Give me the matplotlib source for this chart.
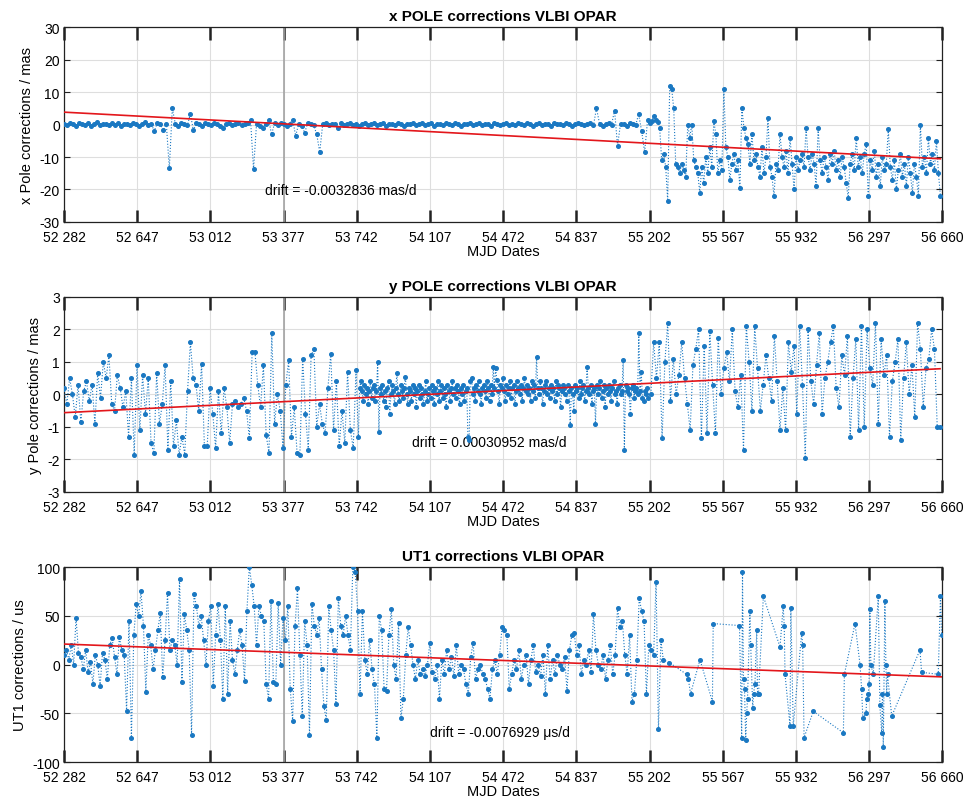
import numpy as np
import matplotlib
matplotlib.use("Agg")
import matplotlib.pyplot as plt

plt.rcParams['font.family'] = ['Liberation Sans', 'DejaVu Sans']
plt.rcParams['axes.unicode_minus'] = False

# x axis: MJD ticks
tick_dates = [52282, 52647, 53012, 53377, 53742, 54107, 54472, 54837,
              55202, 55567, 55932, 56297, 56660]
tick_labels = ['52 282', '52 647', '53 012', '53 377', '53 742', '54 107', '54 472',
               '54 837', '55 202', '55 567', '55 932', '56 297', '56 660']

# ---- x pole (mas) ----
x_start_a, x_step_a = 52282, 15
x_vals_a = [
    0.3, -0.2, 0.5, 0.1, -0.4, 0.6, 0.2, -0.1, 0.4, -0.5, 0.2, 0.7, -0.2, 0.3, 0.1,
    -0.3, 0.4, 0.0, 0.5, -0.6, 0.2, 0.3, -0.2, 0.6, 0.1, -0.4, 0.3, 0.8, -0.3, 0.2,
    -2.0, 0.4, 0.1, -1.8, 0.3, -13.5, 5.0, 0.2, -0.5, 0.6, 0.1, -0.3, 3.3, -1.8, 0.4,
    0.2, -0.4, 0.5, 0.1, -0.2, 0.6, 0.3, -0.5, -1.2, 0.2, 0.4, -0.1, 0.3, 0.5, -0.3,
    0.2, 0.4, 1.5, -13.8, 0.3, -0.6, -1.0, 0.2, 1.5, -3.0, 0.4, -0.2, 0.5, 0.1, -0.4,
    0.3, 1.5, -3.5, 0.2, -0.5, -2.5, 0.4, 0.1, -0.3, -3.0, -8.5, 0.2, 0.5, -0.2, 0.3,
    0.1, -1.2, 0.4, -0.3, 0.2, 0.5, -0.1, 0.3, -0.4, 0.2, 0.6, -0.2, 0.1, 0.4, -0.3,
    0.2, 0.5, -0.4, 0.1, 0.3, -0.2, 0.6, 0.2, -0.5, 0.3, 0.1, 0.4, -0.3, 0.2, 0.5,
    -0.1, 0.3, 0.6, -0.4, 0.2, 0.1, -0.3, 0.5, 0.2, -0.2, 0.4, 0.1, -0.5, 0.3, 0.2,
    0.4, -0.2, 0.1, 0.5, -0.3, 0.2, 0.3, -0.4, 0.6, 0.1, -0.2, 0.3, 0.5, -0.1, 0.2,
    -0.3, 0.4, 0.2, -0.1, 0.5, 0.3, -0.4, 0.1, 0.6, -0.2, 0.3, 0.2, -0.5, 0.4, 0.1,
    0.3, -0.2, 0.5, 0.1, -0.4, 0.2, 0.6, 0.3, -0.3, 0.1, 0.4, -0.2, 5.0, 0.3, -0.4,
    0.2, 0.5, -0.1, 4.3, -6.5, 0.3, 0.1, -0.4, 0.6, 0.2, -0.3, 3.2, -2.0, -8.5, 1.5,
]
x_start_b, x_step_b = 55202, 10
x_vals_b = [
    0.5, 1.0, 2.5, 1.5, 0.8, -1, -11, -9, -13, -23.5, 12, 11, 5, -12, -13,
    -15, -12, -14, -16, 0, -4, 0, -11, -13, -15, -21, -13, -18, -10, -15,
    -7, -13, 1, -3, -15, -11, -14, 11, -7, -10, -17, -12, -9, -14, -11,
    -19.5, 5, -1, -4, -6, -12, -3, -11, -9, -13, -16, -7, -15, -10, 2,
    -13, -16, -22, -12, -14, -3, -10, -13, -8, -15, -4, -12, -20, -10, -14,
    -11, -9, -13, -1, -10, -14, -9, -12, -19, -1, -11, -15, -10, -13, -17,
    -9, -12, -8, -14, -11, -16, -10, -13, -18, -22.5, -12, -9, -14, -4, -13,
    -10, -15, -9, -6, -22, -11, -14, -8, -16, -12, -19, -10, -14, -12, -1.5,
    -13, -17, -11, -20, -14, -9, -16, -12, -19, -10, -15, -21, -12, -16, -22,
    0, -13, -10, -15, -4, -12, -9, -14, -5, -15, -22,
]
x_fit_start, x_drift = 3.8, -0.0032836

# ---- y pole (mas) ----
y_start_a, y_step_a = 52282, 14
y_vals_a = [
    0.2, -0.3, 0.5, 0.0, -0.7, 0.3, -0.85, 0.1, 0.4, -0.2, 0.3, -0.9, 0.65, -0.1, 1.0, 0.5, 1.2, -0.3, -0.5, 0.6,
    0.2, -0.4, 0.1, -1.3, 0.5, -1.85, 0.9, -1.1, 0.6, -0.6, 0.5, -1.5, -1.8, 0.65, -0.9, -0.3, 0.9, -1.7, 0.4, -1.6,
    -0.8, -1.85, -1.3, -1.85, 0.1, 1.6, 0.5, 0.3, -0.5, 0.95, -1.6, -1.6, 0.2, -0.6, -1.65, 0.1, -1.2, 0.2, -0.4, -1.5,
    -0.3, -0.2, -0.4, -0.3, -0.1, -0.5, -1.35, 1.3, 1.3, 0.3, -0.4, 0.9, -1.25, -1.8, 1.9, -0.9, 0.0, -0.5, -1.65, 0.3,
    1.05, -1.3, -0.4, -1.8, -1.85, 1.1, -0.6, -1.7, 1.2, 1.4, -1.0, -0.3, -0.9, -1.2, 0.2, 1.25, -1.1, 0.4, -1.6, -0.5,
    -1.5, 0.7, -1.1, -1.65, 0.75,
]
y_start_b, y_step_b = 53750, 6
y_vals_b = [
    -1.3, 0.2, 0.4, 0.1, -0.2, 0.3, 0.0, 0.2, -0.3, 0.1, 0.4, -0.1, 0.2, 0.3, -0.2, 0.1, 1.0, -1.15, 0.2, 0.0,
    0.3, -0.2, 0.1, -0.4, 0.2, 0.4, -0.6, 0.0, 0.3, 0.1, -0.3, 0.2, 0.65, 0.0, -0.2, 0.3, 0.1, -0.1, 0.2, 0.55,
    0.0, -0.3, 0.2, 0.1, -0.2, 0.3, 0.0, 0.2, -0.4, 0.1, 0.3, -0.1, 0.2, 0.0, -0.3, 0.1, 0.4, -0.2, 0.0, 0.2,
    -0.1, 0.3, 0.1, -0.3, 0.2, 0.0, 0.4, -0.2, 0.1, 0.3, -0.1, 0.2, 0.0, -0.4, 0.3, 0.1, -0.2, 0.2, 0.4, 0.0,
    0.2, -0.1, 0.3, 0.1, -0.3, 0.2, 0.0, 0.3, -0.2, 0.1, 0.2, -1.3, -1.4, 0.4, 0.5, 0.0, 0.2, -0.2, 0.3, 0.1,
    0.4, 0.0, -0.3, 0.2, 0.3, 0.1, -0.1, 0.4, 0.2, -0.2, 0.3, 0.0, 0.85, 0.2, 0.8, 0.45, 0.1, -0.3, 0.3, 0.2,
    0.5, 0.1, -0.2, 0.3, 0.0, 0.2, 0.4, -0.1, 0.2, 0.3, -0.3, 0.1, 0.4, 0.2, 0.0, 0.3, -0.2, 0.2, 0.5, 0.1,
    0.3, 0.0, 0.2, -0.2, 0.4, 0.1, 0.3, -0.1, 1.15, 0.2, 0.0, 0.4, 0.2, -0.3, 0.1, 0.3, 0.4, 0.0, 0.2, -0.1,
    0.3, 0.1, 0.2, -0.2, 0.4, 0.0, 0.3, 0.2, -0.4, 0.1, 0.3, 0.2, 0.0, -0.2, 0.3, 0.1, -0.95, 0.2, 0.0, -0.5,
    0.3, 0.1, 0.2, -0.1, 0.4, 0.0, 0.2, 0.3, -0.2, 0.1, 0.85, 0.2, 0.0, 0.3, -0.3, 0.1, 0.2, -0.9, 0.3, 0.0,
    0.2, 0.4, -0.1, 0.1, 0.3, -0.4, 0.2, 0.0, 0.3, 0.1, -0.2, 0.2, 0.4, 0.0, 0.1, -0.3, 0.2, 0.3, 0.0, 0.1,
    1.05, -1.7, 0.3, 0.1, 0.2, 0.0, -0.6, 0.2, 0.3, -0.1, 0.1, 0.2, 0.0, 1.9, 0.1, 0.7, -0.1, -0.2, 0.1, 0.0,
    0.2, -0.1,
]
y_start_c, y_step_c = 55208, 14
y_vals_c = [
    0.0, 1.6, 0.5, 1.6, -1.35, 1.0, 2.2, -0.2, 1.1, 0.0, 0.6,
    1.6, 0.5, -0.3, -1.1, 0.9, 1.4, 2.0, -1.35, 1.5, -1.2, 1.95, 0.3, -1.2, 1.75, 0.0, 0.8, 1.3, 0.4, 2.0, 0.1,
    -0.4, 0.6, -1.7, 2.1, 1.0, -0.5, 2.1, 0.8, -0.5, 0.3, 1.2, 0.5, -0.2, 1.8, 0.4, -1.1, 0.2, -1.1, 1.6, 0.7,
    1.5, -0.6, 2.1, 0.3, -1.95, 2.0, 0.4, -0.3, 0.9, 1.9, -0.6, 0.5, 1.0, 1.6, 2.1, 0.2, -0.4, 1.2, 0.6, 1.8,
    -1.3, 0.5, 1.7, -1.1, 2.1, -1.0, 2.0, 0.8, 0.3, 2.2, -0.9, 1.7, 0.6, 1.2, -1.3, 0.4, 1.0, 1.7, -1.4, 0.5,
    1.6, 0.0, 0.9, -0.7, 2.2, 1.4, -0.4, 0.8, 1.1, 2.0, 1.4, -1.0, -1.0,
]
y_fit_start, y_drift = -0.56, 0.00030952

# ---- UT1 (us) ----
ut1_start, ut1_step = 52282, 12
ut1_vals_dense = [
    10, 15, 5, 20, 0, 48, 12, 8, -5, 15, -8, 3, -20, 10, 0, -22, 12, 5, -15, 20, 27, 8, -10, 28, 15,
    10, -48, 45, -75, 30, 62, 50, 75, 40, -28, 30, 20, -5, 15, 35, 53, -13, 25, 73, 15, 25, 20, 0, 88, -18,
    52, 35, 15, -72, 72, 60, 40, 50, 25, 0, 45, 60, -22, 30, 62, 25, -35, 60, -30, 45, 5, -10, 15, 35, 20,
    -17, 55, 100, 82, 60, 20, 60, 50, 45, -20, -35, 65, -18, -20, 63, 0, 48, 25, 60, -25, -58, 40, 78, 10, -53,
    45, 20, -72, 62, 40, 30, 48, -5, -43, -57, 60, 35, 15, -40, 68, 40, 30, 50, 30, 15, 100, 95, 55, -30, 55,
    5, -10, 25, -5, -20, -75, 50, 35, -25, -27, 30, 57, 0, -15, 43, -55, -35, 10, 38, 20, 0, -15, 5, -10, -5,
    -12, 0, 22, -8, -15, 0, -35, 5, -10, 15, -5, 8, -12, 20, -10, 0, -5, -20, -30, 8, 22, -15, -5, 0, -10,
    -15, -25, -35, -5, 5, -10, 10, 38, 35, 30, -25, -10, 5, -5, 15, -15, 0, 10, -20, 5, 20, -8, 0, -12, 10,
    -30, 20, -15, 5, -10, 10, 0, -5, 8, -27, 15, 30, 32, 10, 20, -10, 5, 0, 15, -8, 52, 15, 0, -5, 10,
    -15, 5, 20, -10, 10, 58, 38, 45, 10, -10, 30, -38, -30, 5, 68, 55, 45, -30, 20, 15, 10, 85, -66, 25, 5,
]
ut1_dates_sparse = [55300, 55386, 55395, 55406, 55453, 55515, 55519, 55650, 55661, 55665,
                    55670, 55675, 55681, 55686, 55690, 55702, 55706, 55716, 55720, 55727,
                    55736, 55740, 55745, 55769, 55852, 55868, 55873, 55877, 55902, 55906,
                    55918, 55960, 55965, 55972, 56018, 56168, 56173, 56226, 56251, 56259,
                    56265, 56281, 56284, 56292, 56296, 56300, 56305, 56317, 56342, 56350,
                    56359, 56363, 56367, 56375, 56380, 56384, 56388, 56409, 56550, 56558,
                    56641, 56652, 56658]
ut1_vals_sparse = [2, -10, -15, -30, 5, -38, 42, 40, -75, 95,
                   -15, -25, -77, -50, -35, 55, 20, -45, -30, -20,
                   35, -30, -30, 70, 18, 60, 40, -10, -63, 58,
                   -63, 32, 20, -75, -48, -70, -10, 42, 0, -25,
                   -55, -50, -35, -30, -20, 57, 0, -10, 70, -42,
                   -70, -30, -85, 65, 0, -30, -10, -53, 15, -8,
                   -10, 70, 30]
ut1_fit_start, ut1_drift = 21.0, -0.0076929


def regular_dates(start, step, vals):
    return start + step * np.arange(len(vals))


x_dates = np.concatenate([regular_dates(x_start_a, x_step_a, x_vals_a),
                          regular_dates(x_start_b, x_step_b, x_vals_b)])
x_vals = np.array(x_vals_a + x_vals_b, dtype=float)
y_dates = np.concatenate([regular_dates(y_start_a, y_step_a, y_vals_a),
                          regular_dates(y_start_b, y_step_b, y_vals_b),
                          regular_dates(y_start_c, y_step_c, y_vals_c)])
y_vals = np.array(y_vals_a + y_vals_b + y_vals_c, dtype=float)
ut1_dates = np.concatenate([regular_dates(ut1_start, ut1_step, ut1_vals_dense),
                            np.array(ut1_dates_sparse)])
ut1_vals = np.array(ut1_vals_dense + ut1_vals_sparse, dtype=float)

panels = [
    (x_dates, x_vals, x_fit_start, x_drift, 'x POLE corrections VLBI OPAR',
     'x Pole corrections / mas', (-30, 30), np.arange(-30, 31, 10),
     'drift = -0.0032836 mas/d', (53284, -20.2)),
    (y_dates, y_vals, y_fit_start, y_drift, 'y POLE corrections VLBI OPAR',
     'y Pole corrections / mas', (-3, 3), np.arange(-3, 4, 1),
     'drift = 0.00030952 mas/d', (54017, -1.46)),
    (ut1_dates, ut1_vals, ut1_fit_start, ut1_drift, 'UT1 corrections VLBI OPAR',
     'UT1 corrections / us', (-100, 100), np.arange(-100, 101, 50),
     'drift = -0.0076929 \u03bcs/d', (54107, -69)),
]

fig = plt.figure(figsize=(9.67, 8.03), dpi=100)
bottoms = [0.7223, 0.3861, 0.0498]
blue = '#1a78c2'

for (dates, vals, fit0, drift, title, ylabel, ylim, yticks, note, note_xy), b in zip(panels, bottoms):
    ax = fig.add_axes([0.0662, b, 0.908, 0.2428])
    ax.plot(dates, vals, linestyle=':', linewidth=0.8, color=blue,
            marker='.', markersize=5.2, zorder=3)
    fit = fit0 + drift * (dates - dates[0])
    ax.plot(dates, fit, color='#e3161b', linewidth=1.2, zorder=4)
    ax.axvline(53377, color='#a3a3a3', linewidth=1.2, zorder=1)
    ax.text(note_xy[0], note_xy[1], note, fontsize=10, va='center', ha='left', zorder=2)

    ax.set_xlim(52282, 56660)
    ax.set_ylim(*ylim)
    ax.set_xticks(tick_dates)
    ax.set_xticklabels(tick_labels)
    ax.set_yticks(yticks)
    ax.grid(True, color='#dedede', linewidth=0.8, zorder=0)
    ax.set_axisbelow(True)
    ax.tick_params(axis='x', direction='in', length=9, width=1.8, color='#222222',
                   top=True, labelsize=10, pad=5.5)
    ax.tick_params(axis='y', direction='in', length=4, width=0.8, color='#222222',
                   right=True, labelsize=10, pad=3)
    for sp in ax.spines.values():
        sp.set_color('#222222')
        sp.set_linewidth(0.9)
    ax.set_title(title, fontsize=11, fontweight='bold', pad=5)
    ax.set_xlabel('MJD Dates', fontsize=10.5, labelpad=0.5)
    ax.set_ylabel(ylabel, fontsize=10.5, labelpad=4)

fig.savefig('out.png', dpi=100)
